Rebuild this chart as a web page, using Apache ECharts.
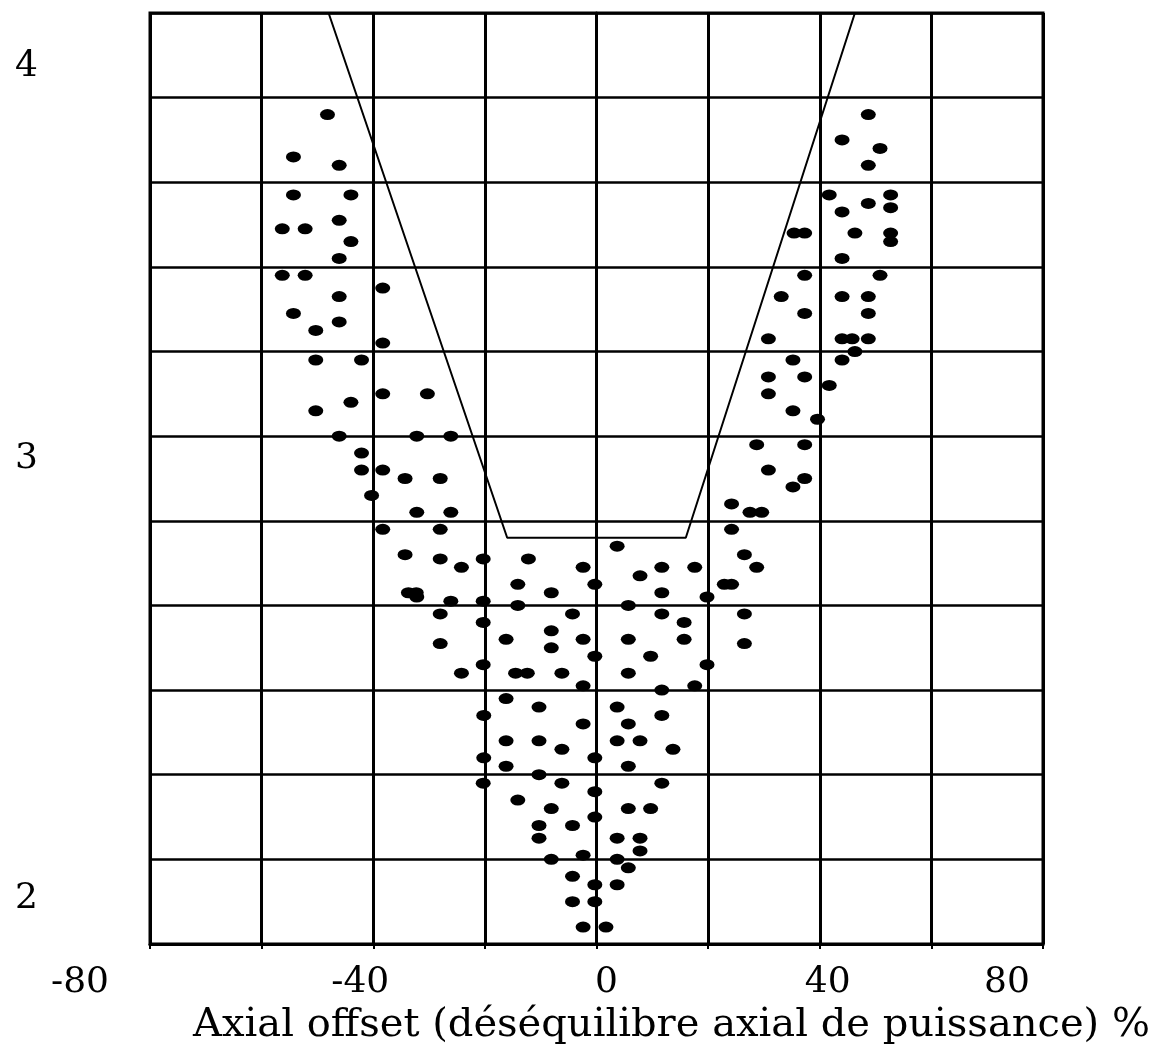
<!DOCTYPE html>
<html>
	<head>
		<meta charset="utf-8" />
		<title>Axial offset</title>
		<style type="text/css">
			html, body { margin: 0; padding: 0; background: #fff; }
		</style>
	</head>
	<body>
		<div id="chart" style="width:1171px;height:1046px;"></div>
	</body>
</html>
<script src="https://cdn.jsdelivr.net/npm/echarts@6.0.0/dist/echarts.min.js"></script>
<script>
	// tick labels
	var xTicks = [-80, -40, 0, 40, 80];
	var yTicks = [2, 3, 4];

	// points on the left branch
	var leftX = [-48.2, -54.3, -46.1, -54.3, -44.0, -46.1, -56.3, -52.2, -44.0, -46.1,
		-56.3, -52.2, -38.3, -46.1, -54.3, -46.1, -50.3, -38.3, -50.3, -42.1,
		-38.3, -30.3, -50.3, -44.0, -46.1, -32.2, -26.1, -42.1, -42.1, -38.3,
		-34.3, -28.0, -40.3, -32.2, -26.1, -38.3, -28.0, -34.3, -28.0, -24.2,
		-20.3, -33.7, -32.3, -32.2, -26.1, -20.3, -28.0, -20.3, -28.0, -20.3, -24.2];
	var leftY = [3.76, 3.66, 3.64, 3.57, 3.57, 3.51, 3.49, 3.49, 3.46, 3.42,
		3.38, 3.38, 3.35, 3.33, 3.29, 3.27, 3.25, 3.22, 3.18, 3.18,
		3.10, 3.10, 3.06, 3.08, 3.00, 3.00, 3.00, 2.96, 2.92, 2.92,
		2.90, 2.90, 2.86, 2.82, 2.82, 2.78, 2.78, 2.72, 2.71, 2.69,
		2.71, 2.63, 2.63, 2.62, 2.61, 2.61, 2.58, 2.56, 2.51, 2.46, 2.44];

	// points in the middle
	var centreX = [3.7, -12.2, -2.4, -14.1, -8.1, -0.3, 7.8, 11.7, 17.6, 11.7,
		22.9, -14.1, 5.7, 19.8, -4.3, -8.1, -16.2, -2.4, -8.1, 11.7,
		15.7, 5.7, 15.7, -0.3, 9.7, 19.8, -14.5, -12.4, -6.2, -2.4,
		5.7, 17.6, 11.7, -16.2, -20.2, -10.3, -2.4, 3.7, 5.7, 11.7,
		-16.2, -10.3, -6.2, 3.7, 7.8, 13.7, -20.2, -0.3, -16.2, 5.7,
		-10.3, -20.3, -6.2, 11.7, -14.1, -0.3, -8.1, 5.7, 9.7, -0.3,
		-10.3, -10.3, -4.3, 3.7, 7.8, 7.8, -2.4, -8.1, 3.7, 5.7,
		-4.3, -0.3, 3.7, -4.3, -0.3, -2.4, 1.7];
	var centreY = [2.74, 2.71, 2.69, 2.65, 2.63, 2.65, 2.67, 2.69, 2.69, 2.63,
		2.65, 2.60, 2.60, 2.62, 2.58, 2.54, 2.52, 2.52, 2.50, 2.58,
		2.56, 2.52, 2.52, 2.48, 2.48, 2.46, 2.44, 2.44, 2.44, 2.41,
		2.44, 2.41, 2.40, 2.38, 2.34, 2.36, 2.32, 2.36, 2.32, 2.34,
		2.28, 2.28, 2.26, 2.28, 2.28, 2.26, 2.24, 2.24, 2.22, 2.22,
		2.20, 2.18, 2.18, 2.18, 2.14, 2.16, 2.12, 2.12, 2.12, 2.10,
		2.08, 2.05, 2.08, 2.05, 2.05, 2.02, 2.01, 2.00, 2.00, 1.98,
		1.96, 1.94, 1.94, 1.90, 1.90, 1.84, 1.84];

	// points on the right branch
	var rightX = [48.7, 44.0, 50.8, 48.7, 41.7, 48.7, 52.7, 52.7, 44.0, 35.4,
		37.3, 46.3, 52.7, 52.7, 44.0, 37.3, 50.8, 33.1, 44.0, 48.7,
		37.3, 48.7, 30.8, 44.0, 45.8, 48.7, 46.3, 35.2, 44.0, 30.8,
		37.3, 41.7, 30.8, 35.2, 39.6, 28.7, 37.3, 30.8, 37.3, 35.2,
		24.2, 27.5, 29.6, 24.2, 26.5, 28.7, 24.2, 26.5, 26.5];
	var rightY = [3.76, 3.70, 3.68, 3.64, 3.57, 3.55, 3.57, 3.54, 3.53, 3.48,
		3.48, 3.48, 3.48, 3.46, 3.42, 3.38, 3.38, 3.33, 3.33, 3.33,
		3.29, 3.29, 3.23, 3.23, 3.23, 3.23, 3.20, 3.18, 3.18, 3.14,
		3.14, 3.12, 3.10, 3.06, 3.04, 2.98, 2.98, 2.92, 2.90, 2.88,
		2.84, 2.82, 2.82, 2.78, 2.72, 2.69, 2.65, 2.58, 2.51];

	// limit line
	var limitX = [-48.0, -16.0, 16.0, 46.3];
	var limitY = [4.0, 2.76, 2.76, 4.0];

	function pairs(xs, ys) {
		var out = [];
		for (var i = 0; i < xs.length; i++) {
			out.push([xs[i], ys[i]]);
		}
		return out;
	}

	var points = pairs(leftX, leftY).concat(pairs(centreX, centreY), pairs(rightX, rightY));

	var serif = 'DejaVu Serif';
	function lab(pad) {
		return { fontFamily: serif, fontSize: 36, color: '#000', padding: pad };
	}
	// the scanned labels do not sit on their lines, nudge each one
	var xName = { '-80': 'a', '-40': 'b', '0': 'c', '40': 'd', '80': 'e' };
	var xRich = { a: lab([0, 140, 0, 0]), b: lab([0, 26, 0, 0]), c: lab([0, 0, 0, 20]), d: lab([0, 0, 0, 16]), e: lab([0, 72, 0, 0]) };
	var yName = { '2': 'a', '3': 'b', '4': 'c' };
	var yRich = { a: lab([78, 0, 0, 0]), b: lab([44, 0, 0, 0]), c: lab([108, 0, 0, 0]) };

	var myChart = echarts.init(document.getElementById('chart'));
	var options = {
		animation: false,
		backgroundColor: '#fff',
		grid: {
			left: 150,
			right: 128,
			top: 13,
			bottom: 102,
			outerBoundsMode: 'none',
			show: true,
			borderColor: '#000',
			borderWidth: 3
		},
		xAxis: {
			type: 'value',
			min: -80,
			max: 80,
			interval: 20,
			axisLine: { show: true, lineStyle: { color: '#000', width: 3 } },
			axisTick: { show: true, length: 5, lineStyle: { color: '#000', width: 2 } },
			axisLabel: {
				margin: 21,
				formatter: function (v) {
					if (xTicks.indexOf(v) < 0) return '';
					return '{' + xName[v] + '|' + v + '}';
				},
				rich: xRich
			},
			splitLine: { show: true, lineStyle: { color: '#000', width: 3 } },
			name: 'Axial offset (déséquilibre axial de puissance) %',
			nameLocation: 'middle',
			nameGap: 56,
			nameTextStyle: { fontFamily: serif, fontSize: 40, color: '#000', padding: [0, 0, 0, 150] }
		},
		yAxis: {
			type: 'value',
			min: 1.8,
			max: 4.0,
			interval: 0.2,
			axisLine: { show: true, lineStyle: { color: '#000', width: 3 } },
			axisTick: { show: false },
			axisLabel: {
				margin: 112,
				formatter: function (v) {
					var r = Math.round(v * 10) / 10;
					if (yTicks.indexOf(r) < 0) return '';
					return '{' + yName[r] + '|' + r + '}';
				},
				rich: yRich
			},
			splitLine: { show: true, lineStyle: { color: '#000', width: 2.5 } }
		},
		series: [
			{
				name: 'mesures',
				type: 'scatter',
				data: points,
				symbol: 'circle',
				symbolSize: [15, 11],
				itemStyle: { color: '#000', opacity: 1 }
			},
			{
				name: 'limite',
				type: 'line',
				data: pairs(limitX, limitY),
				symbol: 'none',
				lineStyle: { color: '#000', width: 2 },
				z: 3
			}
		]
	};
	myChart.setOption(options);
</script>
